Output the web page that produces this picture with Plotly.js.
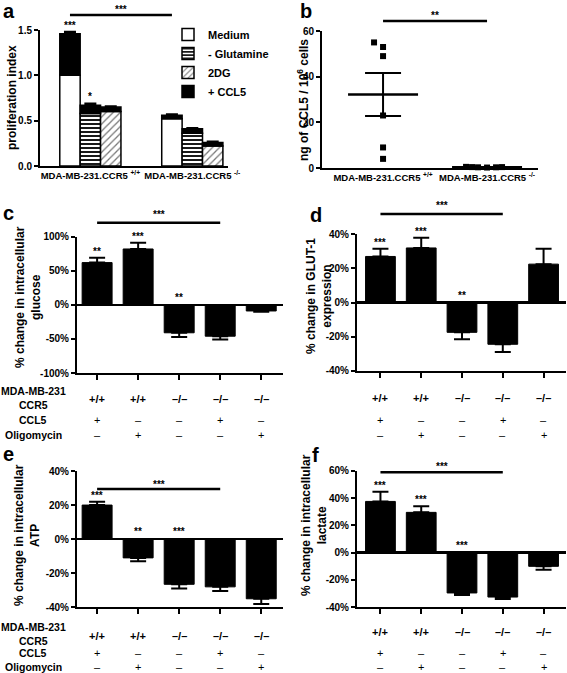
<!DOCTYPE html>
<html>
<head>
<meta charset="utf-8">
<script src="https://cdn.plot.ly/plotly-3.0.1.min.js"></script>
<style>html,body{margin:0;padding:0;background:#fff;}#chart{width:567px;height:673px;}</style>
</head>
<body>
<div id="chart"></div>
<script>
// ---------------- DATA ----------------
// Panel a: proliferation index
const prolifGroups = ['MDA-MB-231.CCR5 <sup>+/+</sup>', 'MDA-MB-231.CCR5 <sup>-/-</sup>'];
const prolifConditions = ['Medium', '- Glutamine', '2DG'];
const prolifMedium = [1.00, 0.52];
const prolifGlutamine = [0.58, 0.36];
const prolif2DG = [0.60, 0.22];
// totals with + CCL5, per group, per condition (Medium, -Gln, 2DG)
const prolifCCL5 = [[1.46, 0.67, 0.65], [0.56, 0.41, 0.26]];
const prolifCCL5Err = [[0.02, 0.02, 0.01], [0.01, 0.01, 0.01]];
const prolifStars = [['***', '*', ''], ['', '', '']];

// Panel b: CCL5 secretion (ng / 10^6 cells)
const ccl5Groups = ['MDA-MB-231.CCR5 <sup>+/+</sup>', 'MDA-MB-231.CCR5 <sup>-/-</sup>'];
const ccl5Pos = [55, 53, 49, 23, 9, 4];
const ccl5Neg = [0.5, 0.3, 0.4, 0.3, 0.4, 0.2];

// Panels c-f: shared condition table
const ccr5Row = ['+/+', '+/+', '\u2013/\u2013', '\u2013/\u2013', '\u2013/\u2013'];
const ccl5Row = ['+', '\u2013', '\u2013', '+', '\u2013'];
const oligoRow = ['\u2013', '+', '\u2013', '\u2013', '+'];
const rowNames = ['MDA-MB-231', 'CCR5', 'CCL5', 'Oligomycin'];

const glucose = [62, 82, -41, -46, -9];
const glucoseErr = [7, 9, 6, 5, 1];
const glucoseStars = ['**', '***', '**', '', ''];

const glut1 = [27, 32, -17.5, -24.5, 22.5];
const glut1Err = [4.5, 6, 4, 4.5, 9];
const glut1Stars = ['***', '***', '**', '', ''];

const atp = [20, -11, -26.5, -28, -35];
const atpErr = [2, 2, 2.5, 2.5, 3];
const atpStars = ['***', '**', '***', '', ''];

const lactate = [37.5, 29.5, -29.5, -32.5, -10];
const lactateErr = [7, 4.5, 1.5, 1.5, 2.5];
const lactateStars = ['***', '***', '***', '', ''];

// ---------------- LAYOUT HELPERS ----------------
const W = 567, H = 673;
const FONT = 'Liberation Sans, Arial, Helvetica, sans-serif';
const px = x => x / W;
const py = y => 1 - y / H;

const data = [];
const annotations = [];
const shapes = [];
const layout = {
  width: W, height: H,
  margin: {l: 0, r: 0, t: 0, b: 0},
  paper_bgcolor: '#fff', plot_bgcolor: 'rgba(0,0,0,0)',
  font: {family: FONT, size: 10, color: '#000', weight: 'bold'},
  barmode: 'overlay',
  showlegend: true,
  legend: {
    x: px(168), y: py(20), xanchor: 'left', yanchor: 'top',
    bgcolor: 'rgba(0,0,0,0)', font: {size: 11, family: FONT, weight: 'bold'},
    traceorder: 'normal'
  },
  annotations: annotations,
  shapes: shapes
};

function axisBase() {
  return {showline: true, linewidth: 2, linecolor: '#000', showgrid: false, zeroline: false,
          ticks: 'outside', ticklen: 4, tickwidth: 2, tickcolor: '#000', fixedrange: true,
          tickfont: {family: FONT, size: 10, weight: 'bold'}};
}

function setAxes(idx, box, xr, yr, xextra, yextra) {
  const xn = idx === 1 ? 'xaxis' : 'xaxis' + idx;
  const yn = idx === 1 ? 'yaxis' : 'yaxis' + idx;
  const xid = idx === 1 ? 'x' : 'x' + idx;
  const yid = idx === 1 ? 'y' : 'y' + idx;
  layout[xn] = Object.assign(axisBase(), {domain: [px(box.x[0]), px(box.x[1])], range: xr, anchor: yid}, xextra);
  layout[yn] = Object.assign(axisBase(), {domain: [py(box.y[1]), py(box.y[0])], range: yr, anchor: xid}, yextra);
  return [xid, yid];
}

function label(text, x, y, size, extra) {
  annotations.push(Object.assign({text: text, x: px(x), y: py(y), xref: 'paper', yref: 'paper',
    showarrow: false, xanchor: 'center', yanchor: 'middle',
    font: {family: FONT, size: size, color: '#000', weight: 'bold'}}, extra || {}));
}

function bracket(xid, from, to, yLine, yText, text) {
  shapes.push({type: 'line', xref: xid, yref: 'paper', x0: from, x1: to, y0: py(yLine), y1: py(yLine),
    line: {color: '#000', width: 2.5}});
  annotations.push({text: text, xref: xid, yref: 'paper', x: (from + to) / 2, y: py(yText),
    showarrow: false, xanchor: 'center', yanchor: 'middle',
    font: {family: FONT, size: 10, color: '#000', weight: 'bold'}});
}

// ---------------- PANEL A ----------------
(function () {
  const [xid, yid] = setAxes(1, {x: [40, 228], y: [30, 166]}, [-1.47, 7.75], [0, 1.5],
    {tickvals: [1, 1 + prolifConditions.length + 2], ticktext: prolifGroups, ticks: '', tickangle: 0,
     tickfont: {family: FONT, size: 9.5, weight: 'bold'}},
    {tickvals: [0, 0.5, 1, 1.5], tickformat: '.1f'});
  const step = prolifConditions.length + 2;
  const pos = (g, c) => g * step + c;
  const line = {color: '#000', width: 1.5};
  data.push({type: 'bar', name: 'Medium', x: prolifGroups.map((_, g) => pos(g, 0)), y: prolifMedium,
    width: 1, marker: {color: '#fff', line: line}, xaxis: xid, yaxis: yid});
  data.push({type: 'bar', name: '- Glutamine', x: prolifGroups.map((_, g) => pos(g, 1)), y: prolifGlutamine,
    width: 1, marker: {color: '#fff', line: line, pattern: {shape: '-', fgcolor: '#000', bgcolor: '#fff', size: 4, solidity: 0.45}},
    xaxis: xid, yaxis: yid});
  data.push({type: 'bar', name: '2DG', x: prolifGroups.map((_, g) => pos(g, 2)), y: prolif2DG,
    width: 1, marker: {color: '#fff', line: line, pattern: {shape: '/', fgcolor: '#777', bgcolor: '#fff', size: 5, solidity: 0.25}},
    xaxis: xid, yaxis: yid});
  const basal = [prolifMedium, prolifGlutamine, prolif2DG];
  const xs = [], bases = [], incs = [], errs = [];
  prolifGroups.forEach((_, g) => prolifConditions.forEach((_, c) => {
    xs.push(pos(g, c)); bases.push(basal[c][g]);
    incs.push(prolifCCL5[g][c] - basal[c][g]); errs.push(prolifCCL5Err[g][c]);
    if (prolifStars[g][c]) {
      annotations.push({text: prolifStars[g][c], xref: xid, yref: yid, x: pos(g, c), y: prolifCCL5[g][c] + prolifCCL5Err[g][c],
        showarrow: false, yanchor: 'bottom', yshift: -1, font: {family: FONT, size: 10, color: '#000', weight: 'bold'}});
    }
  }));
  data.push({type: 'bar', name: '+ CCL5', x: xs, y: incs, base: bases, width: 1,
    marker: {color: '#000', line: line},
    error_y: {type: 'data', symmetric: false, array: errs, arrayminus: errs.map(() => 0), color: '#000', thickness: 2, width: 6},
    xaxis: xid, yaxis: yid});
  bracket(xid, pos(0, 0), pos(1, 0), 15, 10, '***');
  label('proliferation index', 12, 98, 12, {textangle: -90});
  label('a', 9, 11, 20);
})();

// ---------------- PANEL B ----------------
(function () {
  const box = {x: [322, 538], y: [31, 168]};
  const xr = [-0.587, 1.49], yr = [0, 60];
  const [xid, yid] = setAxes(2, box, xr, yr,
    {tickvals: [0, 1], ticktext: ccl5Groups, ticks: '', tickangle: 0,
     tickfont: {family: FONT, size: 9.5, weight: 'bold'}},
    {tickvals: [0, 20, 40, 60]});
  const pxPerX = (box.x[1] - box.x[0]) / (xr[1] - xr[0]);
  const pxPerY = (box.y[1] - box.y[0]) / (yr[1] - yr[0]);
  const msize = 6;
  // simple beeswarm: spread points whose markers would overlap
  function swarm(vals) {
    const placed = [];
    const order = vals.map((v, i) => i).sort((a, b) => vals[a] - vals[b]);
    const offs = new Array(vals.length).fill(0);
    order.forEach(i => {
      const cands = [0];
      for (let k = 1; k < 10; k++) { cands.push(-k * msize / 2 - (k - 1) * msize / 2); cands.push(k * msize / 2 + (k - 1) * msize / 2); }
      for (const o of cands) {
        const clash = placed.some(p => Math.abs((p.v - vals[i]) * pxPerY) < msize && Math.abs(p.o - o) < msize);
        if (!clash) { offs[i] = o; placed.push({v: vals[i], o: o}); break; }
      }
    });
    return offs.map(o => o / pxPerX);
  }
  const sets = [ccl5Pos, ccl5Neg];
  const means = [], sems = [];
  sets.forEach((vals, g) => {
    const offs = swarm(vals);
    data.push({type: 'scatter', mode: 'markers', x: vals.map((_, i) => g + offs[i]), y: vals,
      marker: {symbol: 'square', size: msize, color: '#000'}, cliponaxis: false, showlegend: false,
      xaxis: xid, yaxis: yid, hoverinfo: 'skip'});
    const m = vals.reduce((a, b) => a + b, 0) / vals.length;
    const sd = Math.sqrt(vals.reduce((a, b) => a + (b - m) * (b - m), 0) / (vals.length - 1));
    means.push(m); sems.push(sd / Math.sqrt(vals.length));
  });
  data.push({type: 'scatter', mode: 'markers', x: [0, 1], y: means,
    marker: {symbol: 'line-ew', size: 50, color: '#000', line: {color: '#000', width: 2.5}},
    error_y: {type: 'data', array: sems, color: '#000', thickness: 2, width: 18},
    cliponaxis: false, showlegend: false, xaxis: xid, yaxis: yid, hoverinfo: 'skip'});
  bracket(xid, 0, 1, 21, 15, '**');
  label('ng of CCL5 / 10<sup>6</sup> cells', 303, 100, 12, {textangle: -90});
  label('b', 306, 11, 20);
})();

// ---------------- PANELS C-F ----------------
function barPanel(idx, box, xr, yr, dtick, vals, errs, stars, title, titlePos, letter, letterPos, rows) {
  const ticks = [];
  for (let v = yr[0]; v <= yr[1] + 1e-9; v += dtick) ticks.push(v);
  const [xid, yid] = setAxes(idx, box, xr, yr,
    {tickvals: vals.map((_, i) => i), showticklabels: false, ticklen: 5},
    {tickvals: ticks, ticktext: ticks.map(v => v + '%'), zeroline: true, zerolinewidth: 2.5, zerolinecolor: '#000'});
  data.push({type: 'bar', x: vals.map((_, i) => i), y: vals, width: 0.73,
    marker: {color: '#000', line: {color: '#000', width: 1}},
    error_y: {type: 'data', symmetric: false, array: vals.map((v, i) => v >= 0 ? errs[i] : 0),
      arrayminus: vals.map((v, i) => v < 0 ? errs[i] : 0), color: '#000', thickness: 2, width: 8},
    showlegend: false, xaxis: xid, yaxis: yid, hoverinfo: 'skip'});
  stars.forEach((s, i) => {
    if (!s) return;
    annotations.push({text: s, xref: xid, yref: yid, x: i, y: vals[i] >= 0 ? vals[i] + errs[i] : 0,
      showarrow: false, yanchor: 'bottom', yshift: vals[i] >= 0 ? -1 : 0,
      font: {family: FONT, size: 10, color: '#000', weight: 'bold'}});
  });
  bracket(xid, 0, 3, rows.bracket[0], rows.bracket[1], '***');
  label(title, titlePos[0], titlePos[1], 12, {textangle: -90});
  label(letter, letterPos[0], letterPos[1], 20);
  // condition table under the axis
  const rowData = [[ccr5Row, rows.y[0], 11, 'bold'], [ccl5Row, rows.y[1], 11, 'normal'], [oligoRow, rows.y[2], 11, 'normal']];
  rowData.forEach(([arr, y, size, weight]) => {
    arr.forEach((t, i) => annotations.push({text: t, xref: xid, yref: 'paper', x: i, y: py(y),
      showarrow: false, xanchor: 'center', yanchor: 'middle',
      font: {family: FONT, size: size, color: '#000', weight: weight}}));
  });
  if (rows.names) {
    rows.names.forEach((y, k) => label(rowNames[k], 33, y, 10.5));
  }
}

barPanel(3, {x: [77, 283], y: [236.7, 373]}, [-0.49, 4.53], [-100, 100], 50, glucose, glucoseErr, glucoseStars,
  '% change in intracellular<br>glucose', [28, 297], 'c', [8, 213],
  {bracket: [222.7, 214], y: [399, 420, 435], names: [391, 405, 420, 435]});
barPanel(4, {x: [357, 566], y: [234.3, 370.7]}, [-0.575, 4.55], [-40, 40], 20, glut1, glut1Err, glut1Stars,
  '% change in GLUT-1<br>expression', [319, 296], 'd', [316, 215],
  {bracket: [214, 205], y: [398, 420, 435]});
barPanel(5, {x: [77, 283], y: [471, 607.3]}, [-0.49, 4.53], [-40, 40], 20, atp, atpErr, atpStars,
  '% change in intracellular<br>ATP', [27, 535], 'e', [8, 454],
  {bracket: [489, 484], y: [636, 653, 667], names: [627, 641, 653, 667]});
barPanel(6, {x: [357, 566], y: [470.7, 607.3]}, [-0.575, 4.55], [-40, 60], 20, lactate, lactateErr, lactateStars,
  '% change in intracellular<br>lactate', [314, 525], 'f', [315, 455],
  {bracket: [472.3, 466.7], y: [632, 653, 667]});

Plotly.newPlot('chart', data, layout, {staticPlot: true, displayModeBar: false});
</script>
</body>
</html>
